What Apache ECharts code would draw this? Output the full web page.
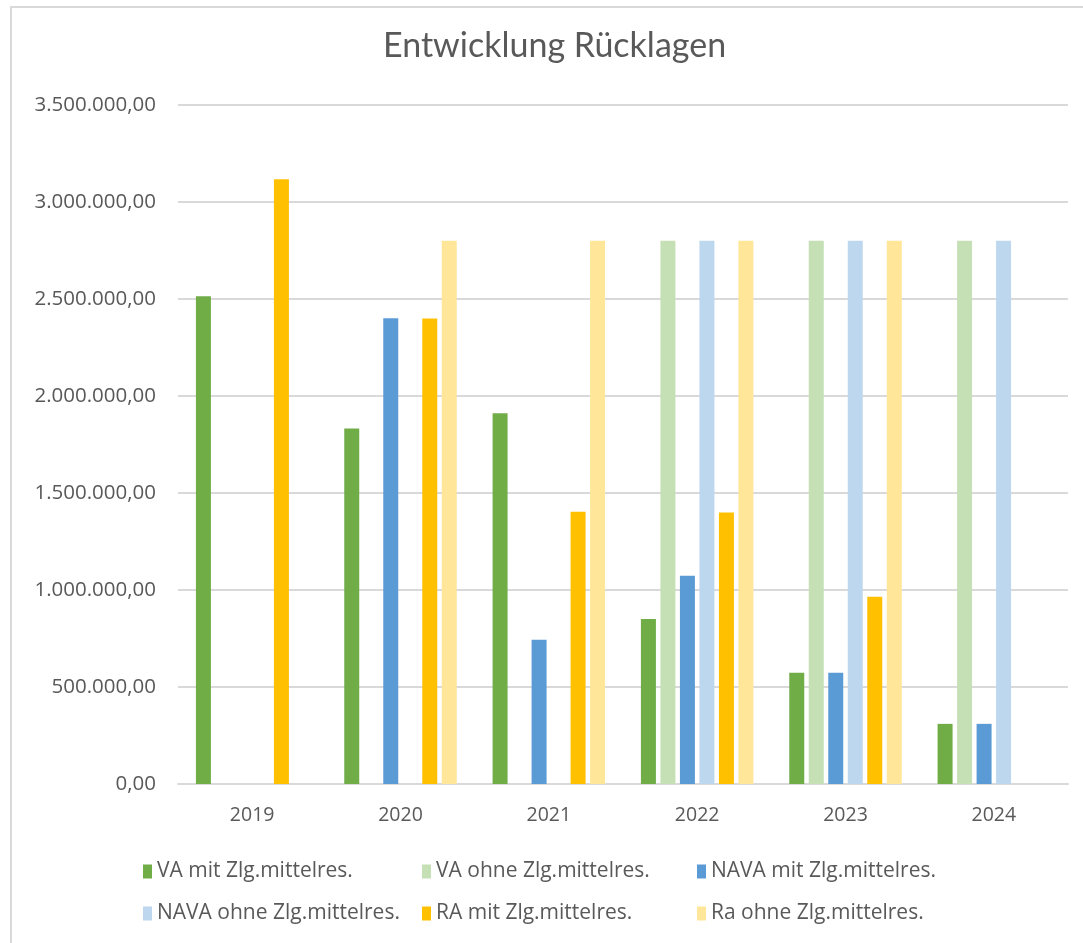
<!DOCTYPE html>
<html>
<head>
<meta charset="utf-8">
<script src="https://cdn.jsdelivr.net/npm/echarts@6/dist/echarts.min.js"></script>
<style>
  html, body { margin: 0; padding: 0; background: #fff; }
  #frame {
    position: absolute; left: 10px; top: 6px; width: 1090px; height: 960px;
    border: 2px solid #d9d9d9; box-sizing: border-box;
  }
  #chart { position: absolute; left: 0; top: 0; width: 1083px; height: 943px; }
</style>
</head>
<body>
<div id="frame"></div>
<div id="chart"></div>
<script>
  var years = ["2019", "2020", "2021", "2022", "2023", "2024"];
  var seriesNames = [
    "VA mit Zlg.mittelres.", "VA ohne Zlg.mittelres.", "NAVA mit Zlg.mittelres.",
    "NAVA ohne Zlg.mittelres.", "RA mit Zlg.mittelres.", "Ra ohne Zlg.mittelres."
  ];
  var vaMit = [2514000, 1832000, 1911000, 851000, 573000, 310000];
  var vaOhne = [null, null, null, 2800000, 2800000, 2800000];
  var navaMit = [null, 2401000, 743000, 1073000, 573000, 310000];
  var navaOhne = [null, null, null, 2800000, 2800000, 2800000];
  var raMit = [3117000, 2400000, 1403000, 1400000, 965000, null];
  var raOhne = [null, 2800000, 2800000, 2800000, 2800000, null];
  var colors = ["#70AD47", "#C5E0B4", "#5B9BD5", "#BDD7EE", "#FFC000", "#FFE699"];

  // 3.500.000,00 style
  function fmtDe(v) {
    var s = Math.round(v).toString().replace(/\B(?=(\d{3})+(?!\d))/g, ".");
    return s + ",00";
  }

  var chart = echarts.init(document.getElementById('chart'));
  var allData = [vaMit, vaOhne, navaMit, navaOhne, raMit, raOhne];

  var series = allData.map(function (d, i) {
    return {
      name: seriesNames[i],
      type: 'bar',
      barWidth: 15,
      barGap: '30%',
      itemStyle: { color: colors[i] },
      data: d
    };
  });

  var legendText = { color: '#595959', fontFamily: 'Open Sans', fontSize: 21 };
  function legendCol(left, names) {
    return {
      orient: 'vertical', left: left, top: 861, padding: 0, itemWidth: 9, itemHeight: 14,
      itemGap: 21, icon: 'rect', textStyle: legendText, data: names
    };
  }

  var option = {
    animation: false,
    backgroundColor: 'transparent',
    color: colors,
    title: {
      text: 'Entwicklung Rücklagen',
      left: 383,
      top: 29,
      padding: 0,
      textStyle: { color: '#595959', fontFamily: 'Lato', fontSize: 34, fontWeight: 'normal' }
    },
    legend: [
      legendCol(143, [seriesNames[0], seriesNames[3]]),
      legendCol(422, [seriesNames[1], seriesNames[4]]),
      legendCol(697, [seriesNames[2], seriesNames[5]])
    ],
    grid: { left: 178, right: 15, top: 105, bottom: 159 },
    xAxis: {
      type: 'category',
      data: years,
      axisTick: { show: false },
      axisLine: { lineStyle: { color: '#d9d9d9', width: 2 } },
      axisLabel: { color: '#595959', fontFamily: 'Open Sans', fontSize: 19.5, margin: 21 }
    },
    yAxis: {
      type: 'value',
      min: 0, max: 3500000, interval: 500000,
      axisLine: { show: false },
      axisTick: { show: false },
      splitLine: { lineStyle: { color: '#d9d9d9', width: 2 } },
      axisLabel: {
        color: '#595959', fontFamily: 'Open Sans', fontSize: 20.5, margin: 22,
        formatter: fmtDe
      }
    },
    series: series
  };

  chart.setOption(option);
</script>
</body>
</html>
